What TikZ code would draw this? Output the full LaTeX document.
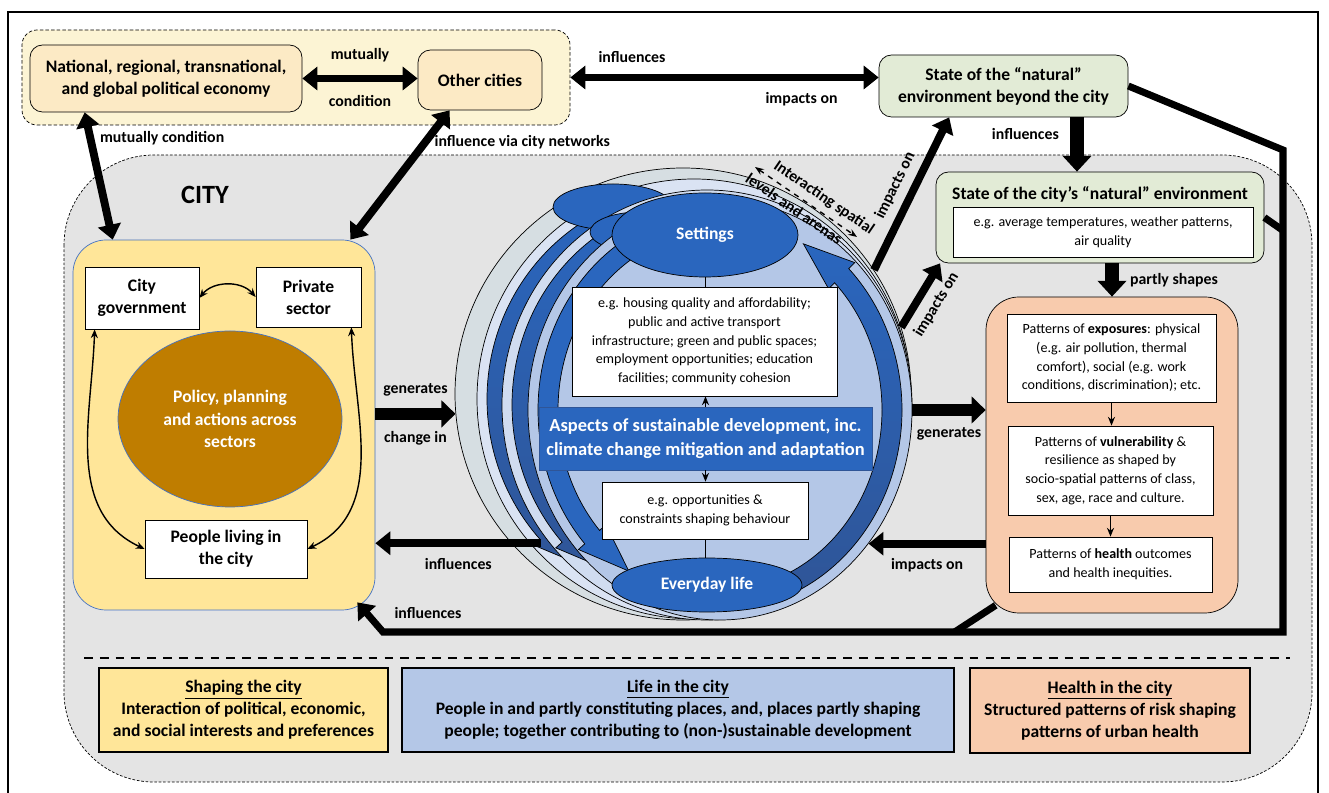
\documentclass[tikz,border=0pt]{standalone}
\usepackage{fontspec}
\setmainfont{Carlito}
\usepackage{tikz}
\usetikzlibrary{arrows.meta,positioning,calc,shapes.geometric}

\definecolor{globfill}{HTML}{FCF4D4}
\definecolor{globbox}{HTML}{FCEAC5}
\definecolor{envgreen}{HTML}{E2EBD6}
\definecolor{cityfill}{HTML}{E4E4E4}
\definecolor{shapeyellow}{HTML}{FFE699}
\definecolor{policybrown}{HTML}{BF7D00}
\definecolor{healthpeach}{HTML}{F8CBAD}
\definecolor{setblue}{HTML}{2A66BE}
\definecolor{banddark}{HTML}{2F5597}
\definecolor{lvlgray}{HTML}{D6DEE2}
\definecolor{lvllight}{HTML}{DAE3F3}
\definecolor{lvlmid}{HTML}{D0DCF0}
\definecolor{lvlmain}{HTML}{B4C7E7}
\definecolor{edgeblue}{HTML}{4472C4}

\newcommand{\boxfont}{\fontsize{10}{12.6}\selectfont\bfseries}
\newcommand{\smalltext}{\fontsize{8}{10.6}\selectfont}
\newcommand{\arrowfont}{\fontsize{9}{11}\selectfont\bfseries}

\tikzset{
  roundbox/.style={rectangle, rounded corners=0.25cm, draw, thin, align=center, font=\boxfont},
  whitebox/.style={rectangle, draw, fill=white, align=center, font=\smalltext},
  lbl/.style={font=\arrowfont},
  bigarrow/.style={line width=4.5pt, -{Triangle[width=13pt,length=8.5pt]}},
  bigboth/.style={line width=4.5pt, {Triangle[width=13pt,length=8.5pt]}-{Triangle[width=13pt,length=8.5pt]}},
  fatarrow/.style={line width=7pt, -{Triangle[width=15pt,length=8pt]}},
  fatdown/.style={line width=8pt, -{Triangle[width=16pt,length=9pt]}},
  thinboth/.style={line width=0.8pt, {Stealth[length=5pt,width=4pt]}-{Stealth[length=5pt,width=4pt]}},
  thinarrow/.style={line width=0.8pt, -{Stealth[length=5pt,width=4pt]}},
  band/.style={draw=black, line width=0.4pt},
}

% curved band arrow inside one level: center, x radius, y radius, start, end, fill
\newcommand{\bandarrow}[6]{%
  \begin{scope}[shift={#1}]
    \pgfmathsetmacro\rxo{#2-0.2}\pgfmathsetmacro\ryo{#3-0.2}
    \pgfmathsetmacro\rxi{#2-0.6}\pgfmathsetmacro\ryi{#3-0.6}
    \pgfmathsetmacro\rxm{#2-0.4}\pgfmathsetmacro\rym{#3-0.4}
    \pgfmathsetmacro\rxw{#2-0.03}\pgfmathsetmacro\ryw{#3-0.03}
    \pgfmathsetmacro\rxv{#2-0.77}\pgfmathsetmacro\ryv{#3-0.77}
    \pgfmathsetmacro\atip{#5+16}
    \path[band,#6] (#4:\rxo cm and \ryo cm)
      arc[start angle=#4, end angle=#5, x radius=\rxo cm, y radius=\ryo cm]
      -- (#5:\rxw cm and \ryw cm) -- (\atip:\rxm cm and \rym cm) -- (#5:\rxv cm and \ryv cm)
      -- (#5:\rxi cm and \ryi cm)
      arc[start angle=#5, end angle=#4, x radius=\rxi cm, y radius=\ryi cm] -- cycle;
  \end{scope}}

\begin{document}
\begin{tikzpicture}
\useasboundingbox (0,0) rectangle (26.58,-15.86);

% outer frame
\draw[line width=1pt] (0.16,-16) -- (0.16,-0.24) -- (26.36,-0.24) -- (26.36,-16);

% the city
\draw[thin, dash pattern=on 1.5pt off 1pt, fill=cityfill, rounded corners=1.8cm] (1.28,-3.1) rectangle (26.24,-15.64);
\node[font=\fontsize{15}{18}\selectfont\bfseries, name=city] at (4.1,-3.9) {CITY};

% outside the city
\node[rectangle, rounded corners=0.3cm, draw, thin, dash pattern=on 2pt off 1.2pt, fill=globfill, minimum width=10.96cm, minimum height=1.9cm, name=global] at (5.92,-1.55) {};
\node[roundbox, fill=globbox, minimum width=5.44cm, minimum height=1.34cm, name=national] at (3.32,-1.57) {National, regional, transnational,\\and global political economy};
\node[roundbox, fill=globbox, minimum width=2.48cm, minimum height=1.2cm, name=other] at (9.6,-1.6) {Other cities};
\node[roundbox, fill=envgreen, minimum width=4.98cm, minimum height=1.24cm, name=beyond] at (20.07,-1.72) {State of the “natural”\\environment beyond the city};

% natural environment of the city
\node[roundbox, fill=envgreen, minimum width=6.56cm, minimum height=1.82cm, name=cityenv] at (22.0,-4.35) {};
\node[font=\boxfont, name=envtitle] at (22.0,-3.88) {State of the city’s “natural” environment};
\node[whitebox, minimum width=6.0cm, minimum height=1.0cm, name=envbox] at (22.06,-4.64) {e.g. average temperatures, weather patterns,\\air quality};

% health in the city
\node[rectangle, rounded corners=0.66cm, draw, thin, fill=healthpeach, minimum width=5.04cm, minimum height=6.32cm, name=health] at (22.24,-9.1) {};
\node[whitebox, minimum width=4.18cm, minimum height=1.76cm, name=expo] at (22.23,-7.16) {Patterns of \textbf{exposures}: physical\\(e.g. air pollution, thermal\\comfort), social (e.g. work\\conditions, discrimination); etc.};
\node[whitebox, minimum width=4.1cm, minimum height=1.78cm, name=vuln] at (22.21,-9.41) {Patterns of \textbf{vulnerability} \&\\resilience as shaped by\\socio-spatial patterns of class,\\sex, age, race and culture.};
\node[whitebox, minimum width=4.06cm, minimum height=1.1cm, name=outc] at (22.21,-11.29) {Patterns of \textbf{health} outcomes\\and health inequities.};
\draw[thinarrow] (expo.south) -- (expo.south |- vuln.north);
\draw[thinarrow] (vuln.south) -- (vuln.south |- outc.north);

% shaping the city
\node[rectangle, rounded corners=0.66cm, draw=edgeblue, fill=shapeyellow, minimum width=6.04cm, minimum height=7.4cm, name=shaping] at (4.48,-8.5) {};
\node[whitebox, font=\boxfont, minimum width=2.28cm, minimum height=1.24cm, name=gov] at (2.84,-5.96) {City\\government};
\node[whitebox, font=\boxfont, minimum width=2.1cm, minimum height=1.2cm, name=private] at (6.17,-5.94) {Private\\sector};
\node[ellipse, draw=edgeblue, fill=policybrown, text=white, font=\boxfont, align=center, minimum width=4.48cm, minimum height=3.52cm, name=policy] at (4.6,-8.38) {Policy, planning\\and actions across\\sectors};
\node[whitebox, font=\boxfont, minimum width=3.24cm, minimum height=1.16cm, name=people] at (4.52,-10.98) {People living in\\the city};
\draw[thinboth] (gov.east) to[bend left=50] (private.west);
\draw[thinboth] ([xshift=0.2cm]gov.south west) to[out=-92, in=155] (people.west);
\draw[thinboth] ([xshift=-0.2cm]private.south east) to[out=-88, in=25] (people.east);

% life in the city: interacting spatial levels
\node[ellipse, draw, thin, fill=lvlgray, minimum width=9.12cm, minimum height=9.04cm, name=lvlA] at (13.66,-7.88) {};
\node[ellipse, draw, thin, fill=lvllight, minimum width=8.68cm, minimum height=8.8cm, name=lvlB] at (13.88,-7.98) {};
\bandarrow{(13.88,-7.98)}{4.34}{4.40}{112}{222}{top color=setblue, bottom color=banddark}
\node[ellipse, draw, thin, fill=setblue, minimum width=2.4cm, minimum height=0.92cm, name=setB] at (12.26,-4.14) {};
\node[ellipse, draw, thin, fill=lvlmid, minimum width=8.2cm, minimum height=8.6cm, name=lvlC] at (14.14,-8.10) {};
\bandarrow{(14.14,-8.10)}{4.10}{4.30}{112}{222}{top color=setblue, bottom color=banddark}
\node[ellipse, draw, thin, fill=setblue, minimum width=2.0cm, minimum height=0.8cm, name=setC] at (12.8,-4.64) {};
\node[ellipse, draw, thin, fill=lvlmain, minimum width=7.68cm, minimum height=8.4cm, name=lvlD] at (14.40,-8.20) {};
\bandarrow{(14.40,-8.20)}{3.84}{4.20}{112}{222}{fill=setblue}
\bandarrow{(14.40,-8.20)}{3.84}{4.20}{-70}{45}{top color=setblue, bottom color=banddark}
\node[ellipse, draw, thin, fill=setblue, text=white, font=\boxfont, minimum width=3.72cm, minimum height=1.68cm, name=settings] at (14.1,-4.7) {Settings};
\node[ellipse, draw, thin, fill=setblue, text=white, font=\boxfont, minimum width=3.8cm, minimum height=1.08cm, name=everyday] at (14.14,-11.7) {Everyday life};
\node[whitebox, minimum width=5.3cm, minimum height=2.18cm, name=setbox] at (14.09,-6.83) {e.g. housing quality and affordability;\\public and active transport\\infrastructure; green and public spaces;\\employment opportunities; education\\facilities; community cohesion};
\node[rectangle, draw=banddark, fill=setblue, text=white, font=\fontsize{10.5}{13.5}\selectfont\bfseries, align=center, minimum width=6.66cm, minimum height=1.26cm, name=aspects] at (14.11,-8.77) {Aspects of sustainable development, inc.\\climate change mitigation and adaptation};
\node[whitebox, minimum width=4.12cm, minimum height=1.14cm, name=lifebox] at (14.1,-10.21) {e.g. opportunities \&\\constraints shaping behaviour};
\draw (settings.south) -- (settings.south |- setbox.north);
\draw[thinarrow] (aspects.north) -- (aspects.north |- setbox.south);
\draw[thinarrow] (aspects.south) -- (aspects.south |- lifebox.north);
\draw (lifebox.south) -- (lifebox.south |- everyday.north);

% interacting levels
\coordinate (ia) at (15.1,-3.34);
\coordinate (ib) at (17.14,-4.74);
\draw[dashed, line width=0.8pt, {Stealth[length=5pt]}-{Stealth[length=5pt]}] (ia) -- (ib) node[pos=0.6, sloped, above, lbl] {Interacting spatial} node[pos=0.45, sloped, below, lbl] {levels and arenas};

% arrows outside the city
\draw[bigboth] (national.east) -- (national.east -| other.west) node[midway, above=4pt, lbl] {mutually} node[midway, below=4pt, lbl] {condition};
\draw[bigboth] (global.east) -- (global.east -| beyond.west) node[pos=0.2, above=3pt, lbl] {influences} node[pos=0.75, below=3pt, lbl] {impacts on};
\draw[bigboth] ([xshift=0.8cm]shaping.north west) -- ([xshift=1.1cm]national.south west) node[pos=0.8, right, lbl] {mutually condition};
\draw[bigboth] ([xshift=-0.5cm]shaping.north east) -- ([xshift=0.64cm]other.south west) node[pos=0.75, right, lbl] {influence via city networks};
\coordinate (infl) at ($(beyond.south)+(1.47,0)$);
\draw[fatdown] (infl) -- (infl |- cityenv.north) node[pos=0.3, left=3pt, lbl] {influences};

% arrows inside the city
\draw[fatdown] (health.north |- cityenv.south) -- (health.north) node[midway, right=3pt, lbl] {partly shapes};
\draw[fatarrow] (shaping.east |- lvlA.185) -- (lvlA.185) node[midway, above=3pt, lbl] {generates} node[midway, below=3pt, lbl] {change in};
\draw[fatarrow] (lvlD.east) -- (lvlD.east -| health.west) node[midway, below=3pt, lbl] {generates};
\draw[bigarrow] ([xshift=0.6cm]lvlA.221) -- (lvlA.221 -| shaping.east) node[midway, below=3pt, lbl] {influences};
\draw[bigarrow] (health.west |- lvlD.-42) -- (lvlD.-42) node[midway, below=3pt, lbl] {impacts on};
\draw[bigarrow] (lvlA.33) -- (beyond.-150) node[midway, sloped, above=1pt, lbl] {impacts on};
\draw[bigarrow] (lvlA.17) -- (cityenv.196) node[midway, sloped, below=1pt, lbl] {impacts on};

% long way back to the city
\coordinate (rtop) at (25.66,-3.0);
\coordinate (rbot) at (25.66,-12.64);
\coordinate (lbot) at (7.66,-12.64);
\draw[bigarrow, line width=4pt] (beyond.east) -- (rtop) -- (rbot) -- (lbot) node[pos=0.95, above=2pt, lbl] {influences} -- ($(shaping.south east)+(-0.36,0.16)$);
\draw[line width=4pt] (cityenv.east) -- ($(rtop |- cityenv.east)+(0,-0.26)$);
\draw[line width=4pt] ($(health.south west)+(0.2,0.16)$) -- ($(health.south west |- rbot)+(-0.62,0)$);

% key
\draw[line width=1.2pt, dash pattern=on 5pt off 4pt] (1.68,-13.16) -- (25.8,-13.16);
\node[rectangle, draw, line width=0.8pt, fill=shapeyellow, font=\boxfont, align=center, minimum width=5.78cm, minimum height=1.68cm, name=shapekey] at (4.87,-14.2) {\underline{Shaping the city}\\Interaction of political, economic,\\and social interests and preferences};
\node[rectangle, draw, line width=0.8pt, fill=lvlmain, font=\boxfont, align=center, minimum width=11.04cm, minimum height=1.68cm, name=lifekey] at (13.56,-14.2) {\underline{Life in the city}\\People in and partly constituting places, and, places partly shaping\\people; together contributing to (non-)sustainable development};
\node[rectangle, draw, line width=0.8pt, fill=healthpeach, font=\boxfont, align=center, minimum width=5.6cm, minimum height=1.7cm, name=healthkey] at (22.2,-14.21) {\underline{Health in the city}\\Structured patterns of risk shaping\\patterns of urban health};
\end{tikzpicture}
\end{document}
